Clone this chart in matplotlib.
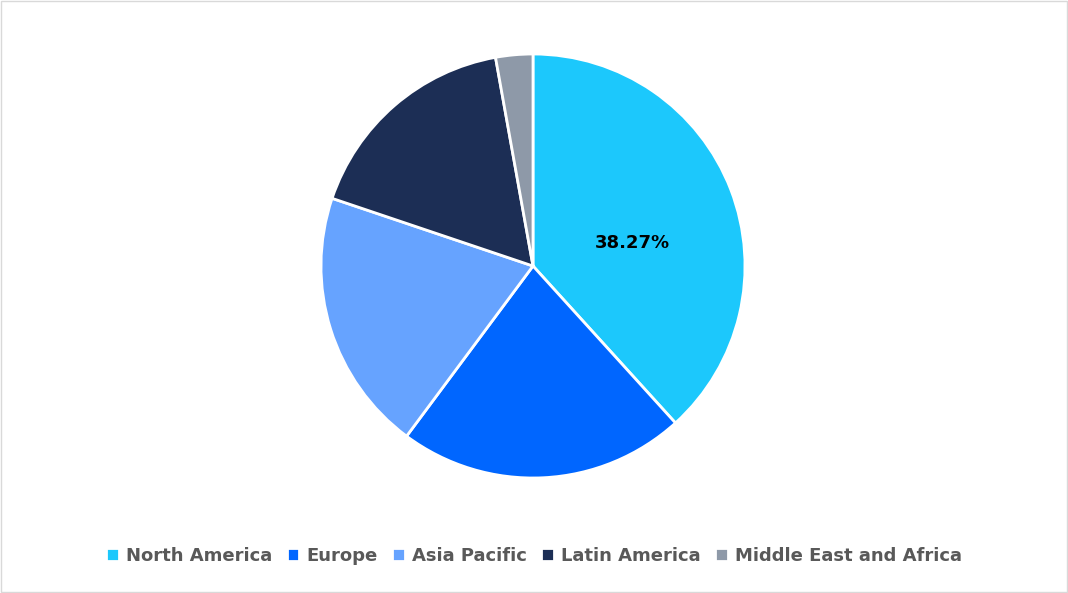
import matplotlib.pyplot as plt
from matplotlib.patches import Rectangle

labels = ["North America", "Europe", "Asia Pacific", "Latin America", "Middle East and Africa"]
values = [38.27, 21.9, 20.0, 17.0, 2.83]
colors = ["#1CC8FC", "#0066FF", "#66A3FF", "#1C2E55", "#8E99A8"]

fig = plt.figure(figsize=(10.68, 5.93), dpi=100)
ax = fig.add_axes([(533-212)/1068, 1 - (266+212)/593, 424/1068, 424/593])
wedges, _ = ax.pie(values, colors=colors, startangle=90, counterclock=False,
                   wedgeprops=dict(edgecolor="white", linewidth=2))
ax.set_aspect("equal")
ax.set_xlim(-1.0, 1.0); ax.set_ylim(-1.0, 1.0)
ax.text(0.47, 0.11, "38.27%", ha="center", va="center", fontsize=13, fontweight="bold", color="black")
fig.legend(wedges, labels, loc="center", bbox_to_anchor=(0.5, 1-556/593), ncol=5, frameon=False,
           prop=dict(size=13, weight="bold"), labelcolor="#595959", handlelength=0.7, handleheight=0.7,
           handletextpad=0.4, columnspacing=0.8)
fig.patches.append(Rectangle((0.001, 0.001), 0.998, 0.997, transform=fig.transFigure, fill=False,
                             edgecolor="#D9D9D9", linewidth=1))
fig.savefig("out.png", dpi=100)
